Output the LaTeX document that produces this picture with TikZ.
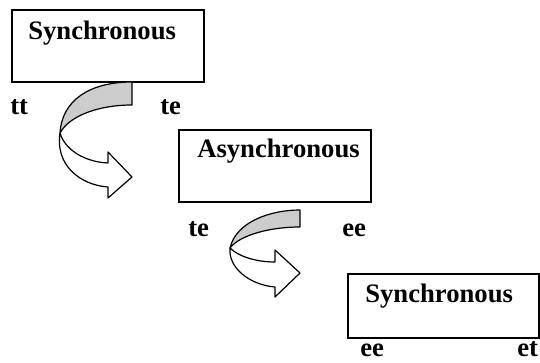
\documentclass[tikz,border=0pt]{standalone}
\usepackage{fontspec}
\setmainfont{Liberation Serif}
\usepackage{tikz}
\definecolor{ribbongray}{RGB}{204,204,204}
\tikzset{
  stagebox/.style={draw, line width=1.2pt},
  stagetext/.style={anchor=base west, inner sep=0pt, font=\fontsize{20}{24}\selectfont\bfseries},
  ribbon/.style={draw, line width=0.9pt, line join=round}
}

\begin{document}
\begin{tikzpicture}[x=0.75pt,y=0.75pt,yscale=-1,xscale=1]
\path (0,0) rectangle (540,363); %canvas

%Boxes
\draw[stagebox] (12,10) rectangle (204,82);
\draw[stagebox] (179,130) rectangle (371,202);
\draw[stagebox] (348,274) rectangle (539,338);

% Text Node
\draw (28,40) node [stagetext] (sync1) {Synchronous};
% Text Node
\draw (197,158) node [stagetext] (async) {Asynchronous};
% Text Node
\draw (365,303) node [stagetext] (sync2) {Synchronous};

% Text Node
\draw (10,115) node [stagetext] (tt) {tt};
% Text Node
\draw (160,115) node [stagetext] (teA) {te};
% Text Node
\draw (188,237) node [stagetext] (teB) {te};
% Text Node
\draw (342,237) node [stagetext] (eeA) {ee};
% Text Node
\draw (360,357) node [stagetext] (eeB) {ee};
% Text Node
\draw (517,357) node [stagetext] (et) {et};

%Curved arrow 1
\draw[ribbon, fill=ribbongray] (132,82) -- (132,105) .. controls (100,105) and (70,115) .. (60,133)
  .. controls (62,100) and (90,82) .. (132,82) -- cycle;
\draw[ribbon, fill=white] (60,133) .. controls (65,150) and (85,162) .. (108,163)
  -- (108,152) -- (132,177) -- (108,198) -- (108,187)
  .. controls (80,185) and (55,165) .. (60,133) -- cycle;

%Curved arrow 2
\draw[ribbon, fill=ribbongray] (300,210) -- (300,227) .. controls (270,227) and (240,235) .. (230,248)
  .. controls (236,222) and (270,210) .. (300,210) -- cycle;
\draw[ribbon, fill=white] (230,248) .. controls (238,256) and (255,262) .. (275,262)
  -- (275,250) -- (300,273) -- (275,297) -- (275,287)
  .. controls (250,285) and (228,268) .. (230,248) -- cycle;

\end{tikzpicture}
\end{document}
